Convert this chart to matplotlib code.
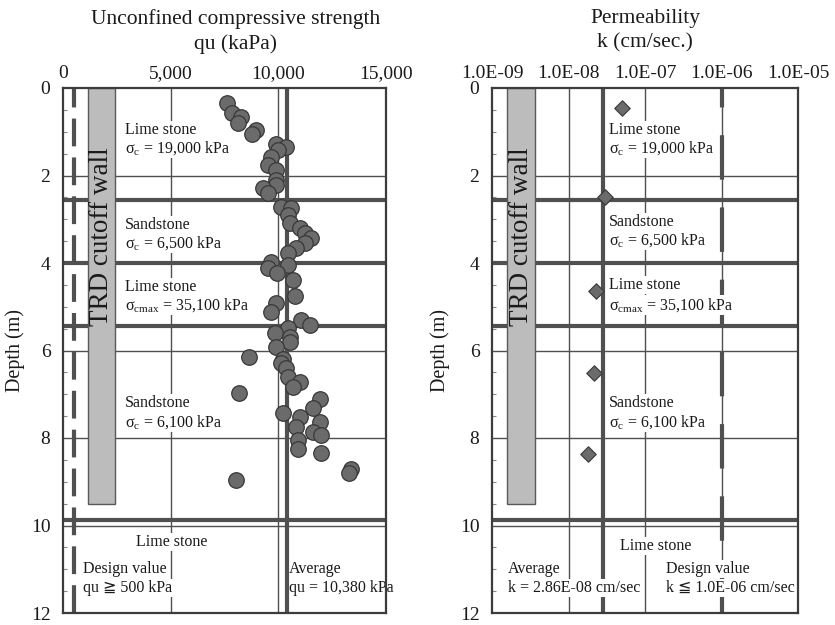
import matplotlib
matplotlib.use("Agg")
import matplotlib.pyplot as plt
from matplotlib.patches import Rectangle
from matplotlib.ticker import MultipleLocator, NullLocator

plt.rcParams['font.family'] = ['Liberation Serif', 'DejaVu Serif', 'DejaVu Sans',
                               'Noto Sans CJK JP']
plt.rcParams['mathtext.fontset'] = 'custom'
plt.rcParams['mathtext.rm'] = 'Liberation Serif'
plt.rcParams['mathtext.it'] = 'Liberation Serif:italic'
plt.rcParams['mathtext.default'] = 'regular'
plt.rcParams['lines.scale_dashes'] = False

# ---- unconfined compressive strength (depth in m, qu in kPa) ----
qu_depth = [0.34, 0.58, 0.66, 0.81, 0.96, 1.04, 1.27, 1.34, 1.42, 1.57,
            1.76, 1.87, 2.10, 2.22, 2.29, 2.40, 2.72, 2.75, 2.91, 3.09,
            3.20, 3.32, 3.43, 3.55, 3.66, 3.78, 3.98, 4.05, 4.12, 4.22,
            4.39, 4.76, 4.92, 5.13, 5.31, 5.42, 5.49, 5.61, 5.69, 5.81,
            5.93, 6.15, 6.19, 6.29, 6.41, 6.61, 6.73, 6.84, 6.96, 7.10,
            7.32, 7.43, 7.53, 7.64, 7.74, 7.87, 7.92, 8.05, 8.24, 8.35,
            8.70, 8.81, 8.95]
qu_values = [7600, 7830, 8250, 8110, 8940, 8760, 9900, 10370, 10000, 9680,
             9500, 9900, 9900, 9900, 9310, 9540, 10140, 10600, 10460, 10550,
             11010, 11240, 11520, 11240, 10830, 10460, 9680, 10460, 9540, 9950,
             10690, 10780, 9900, 9680, 11060, 11470, 10460, 9860, 10550, 10550,
             9900, 8620, 10230, 10140, 10370, 10460, 11010, 10690, 8160, 11930,
             11610, 10230, 11010, 11930, 10830, 11610, 11980, 10920, 10920, 11980,
             13360, 13270, 8020]

# ---- permeability (depth in m, k in cm/sec) ----
k_depth = [0.46, 2.49, 4.64, 6.52, 8.37]
k_values = [5.0e-8, 3.0e-8, 2.3e-8, 2.15e-8, 1.8e-8]

qu_ticks = [0, 5000, 10000, 15000]
qu_tick_labels = ['0', '5,000', '10,000', '15,000']
k_ticks = [1e-9, 1e-8, 1e-7, 1e-6, 1e-5]
k_tick_labels = ['1.0E-09', '1.0E-08', '1.0E-07', '1.0E-06', '1.0E-05']
depth_ticks = [0, 2, 4, 6, 8, 10, 12]

layer_bounds = [2.55, 4.0, 5.45, 9.88]
layer_names = ['Lime stone', 'Sandstone', 'Lime stone', 'Sandstone']
layer_strengths = [r'$\sigma_{c}$ = 19,000 kPa', r'$\sigma_{c}$ = 6,500 kPa',
                   r'$\sigma_{cmax}$ = 35,100 kPa', r'$\sigma_{c}$ = 6,100 kPa']

qu_average = 10380
qu_design = 500
k_average = 2.86e-8
k_design = 1.0e-6
wall_bottom = 9.5
qu_wall = (1160, 2415)
k_wall = (1.57e-9, 3.65e-9)

LINE = '#505050'
FRAME = '#3c3c3c'
TXT = '#1a1a1a'
FS = 11.5

fig = plt.figure(figsize=(8.35, 6.25), dpi=100)
ax1 = fig.add_axes([63 / 835, 1 - 613 / 625, 323 / 835, 525 / 625])
ax2 = fig.add_axes([492 / 835, 1 - 613 / 625, 306 / 835, 525 / 625])

box = dict(facecolor='white', edgecolor='none', pad=0.6)


def frame_axes(ax):
    ax.set_ylim(12, 0)
    ax.set_yticks(depth_ticks)
    ax.yaxis.set_minor_locator(MultipleLocator(0.5))
    ax.xaxis.tick_top()
    ax.tick_params(axis='both', which='major', length=0, labelsize=14,
                   colors=TXT)
    ax.tick_params(axis='x', pad=4.5)
    ax.tick_params(axis='y', pad=9)
    ax.tick_params(axis='y', which='minor', direction='in', length=3,
                   width=0.8, color='#888888')
    ax.tick_params(axis='x', which='minor', length=0)
    for s in ax.spines.values():
        s.set_color(FRAME)
        s.set_linewidth(1.6)
        s.set_zorder(6)
    ax.set_ylabel('Depth (m)', fontsize=14.5, color=TXT, va='center')
    # depth grid
    for d in depth_ticks[1:-1]:
        ax.axhline(d, color=LINE, lw=1.0, zorder=1)
    # layer boundaries
    for b in layer_bounds:
        ax.axhline(b, color=LINE, lw=3.0, zorder=1.5)


def note(ax, x, y, s, ha='left', bg=True):
    ax.text(x, y, s, transform=ax.get_yaxis_transform(), ha=ha, va='center',
            fontsize=FS, color=TXT, bbox=box if bg else None, zorder=4)


def layer_text(ax, xfrac, ys):
    for (yn, ys_), name, sig in zip(ys, layer_names, layer_strengths):
        note(ax, xfrac, yn, name)
        note(ax, xfrac, ys_, sig)


# ---------------- left panel: qu ----------------
frame_axes(ax1)
ax1.set_xlim(0, 15000)
ax1.set_xticks(qu_ticks)
ax1.set_xticklabels(qu_tick_labels)
for v in qu_ticks[1:-1]:
    ax1.axvline(v, color=LINE, lw=1.0, zorder=1)
ax1.axvline(qu_average, color=LINE, lw=3.0, zorder=1.6)
ax1.axvline(qu_design, color=LINE, lw=3.0, zorder=1.6,
            linestyle=(0, (20, 8)))
ax1.add_patch(Rectangle((qu_wall[0], 0), qu_wall[1] - qu_wall[0], wall_bottom,
                        facecolor='#bcbcbc', edgecolor='#5a5a5a', lw=1.0,
                        zorder=2))
ax1.text(sum(qu_wall) / 2, 3.4, 'TRD cutoff wall', rotation=90, ha='center',
         va='center', fontsize=19.5, color=TXT, zorder=3)
ax1.scatter(qu_values, qu_depth, s=125, facecolor='#6b6b6b',
            edgecolor='#383838', linewidth=0.9, zorder=5)
layer_text(ax1, 0.192, [(0.96, 1.37), (3.13, 3.54), (4.55, 4.96), (7.2, 7.63)])
note(ax1, 0.337, 10.38, 'Lime stone', ha='center')
note(ax1, 0.062, 11.0, 'Design value')
note(ax1, 0.062, 11.43, 'qu \u2267 500 kPa')
note(ax1, 0.70, 11.0, 'Average', bg=False)
note(ax1, 0.70, 11.43, 'qu = 10,380 kPa', bg=False)
ax1.yaxis.set_label_coords(-0.149, 0.5)
fig.text(236 / 835, 1 - 9 / 625, 'Unconfined compressive strength\nqu (kaPa)',
         ha='center', va='top', fontsize=15.5, linespacing=1.35, color=TXT)

# ---------------- right panel: k ----------------
frame_axes(ax2)
ax2.set_xscale('log')
ax2.set_xlim(1e-9, 1e-5)
ax2.set_xticks(k_ticks)
ax2.set_xticklabels(k_tick_labels)
ax2.xaxis.set_minor_locator(NullLocator())
for v in k_ticks[1:-1]:
    ax2.axvline(v, color=LINE, lw=1.0, zorder=1)
ax2.axvline(k_average, color=LINE, lw=3.0, zorder=1.6)
ax2.axvline(k_design, color=LINE, lw=3.0, zorder=1.6,
            linestyle=(0, (32, 20)))
ax2.add_patch(Rectangle((k_wall[0], 0), k_wall[1] - k_wall[0], wall_bottom,
                        facecolor='#bcbcbc', edgecolor='#5a5a5a', lw=1.0,
                        zorder=2))
ax2.text((k_wall[0] * k_wall[1]) ** 0.5, 3.4, 'TRD cutoff wall', rotation=90,
         ha='center', va='center', fontsize=19.5, color=TXT, zorder=3)
ax2.scatter(k_values, k_depth, marker='D', s=62, facecolor='#6b6b6b',
            edgecolor='#383838', linewidth=0.8, zorder=5)
layer_text(ax2, 0.382, [(0.96, 1.37), (3.06, 3.47), (4.5, 4.96), (7.2, 7.63)])
note(ax2, 0.536, 10.47, 'Lime stone', ha='center')
note(ax2, 0.052, 11.0, 'Average')
note(ax2, 0.052, 11.43, 'k = 2.86E-08 cm/sec')
note(ax2, 0.569, 11.0, 'Design value')
note(ax2, 0.569, 11.43, 'k \u2266 1.0E-06 cm/sec')
ax2.yaxis.set_label_coords(-0.17, 0.5)
fig.text(645 / 835, 1 - 9 / 625, 'Permeability\nk (cm/sec.)',
         ha='center', va='top', fontsize=15.5, linespacing=1.35, color=TXT)

fig.savefig('out.png', dpi=100, facecolor='white')
